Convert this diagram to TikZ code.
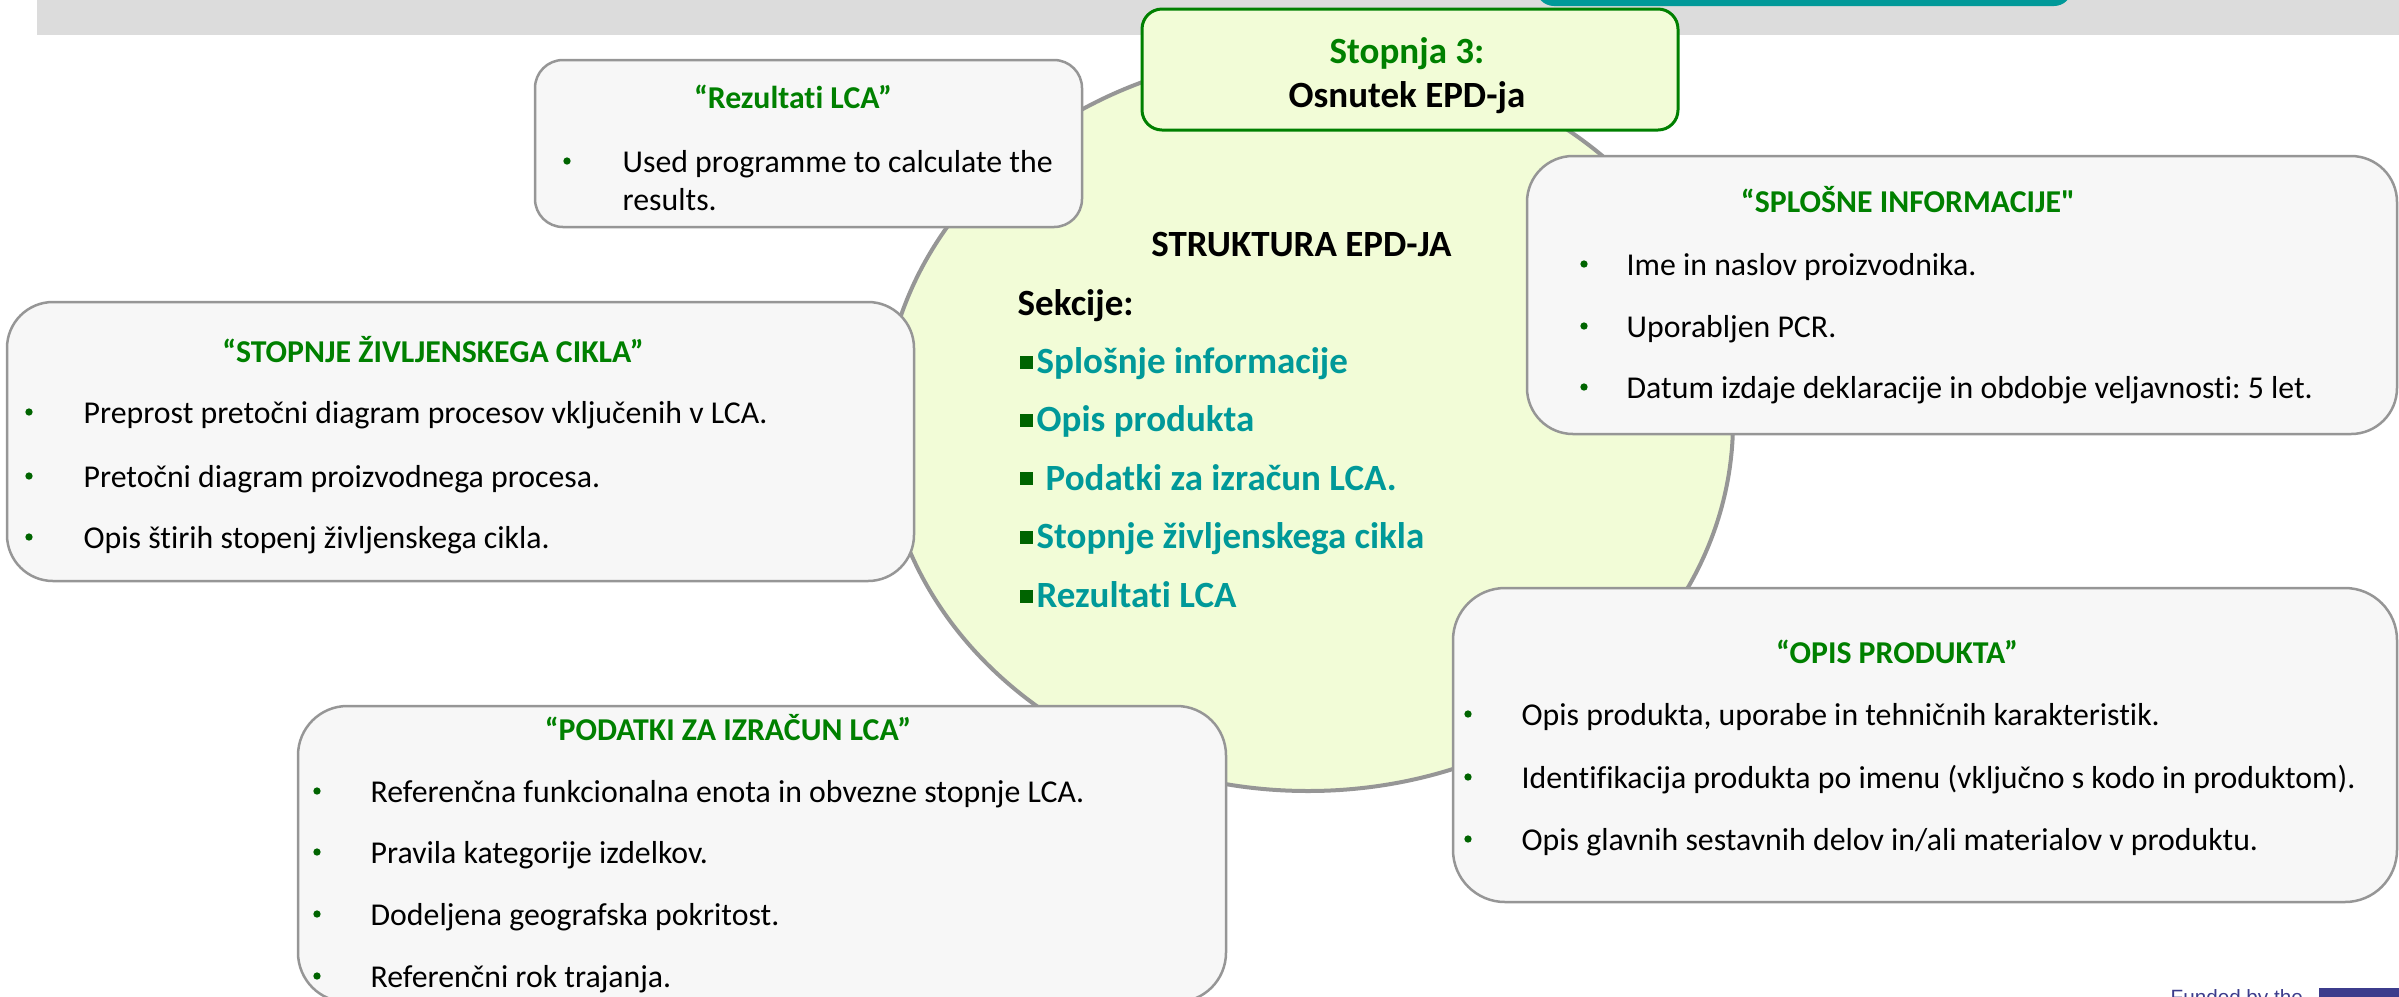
\documentclass[tikz,border=0pt]{standalone}
\usepackage{fontspec}
\setmainfont{Carlito}[Ligatures={TeXOff,CommonOff}]
\newfontfamily\fundfont{Liberation Sans}
\usetikzlibrary{shapes.geometric}
\frenchspacing
\definecolor{hgreen}{RGB}{0,128,0}
\definecolor{dgreen}{RGB}{0,100,0}
\definecolor{tealtxt}{RGB}{0,153,153}
\definecolor{ellfill}{RGB}{242,252,215}
\definecolor{boxfill}{RGB}{247,247,247}
\definecolor{boxgray}{RGB}{150,150,150}
\definecolor{bargray}{RGB}{220,220,220}
\definecolor{fundblue}{RGB}{60,60,140}
\begin{document}
\begin{tikzpicture}[x=0.3pt,y=-0.3pt,
  box/.style={draw=boxgray, line width=0.75pt, fill=boxfill, rounded corners=#1, inner sep=0pt},
  bodytxt/.style={font=\fontsize{9.54}{11}\selectfont, anchor=base west, inner sep=0pt},
  head/.style={font=\fontsize{9.54}{11}\selectfont\bfseries, text=hgreen, anchor=base, inner sep=0pt},
  dotb/.style={circle, fill=dgreen, minimum size=2.2pt, inner sep=0pt},
  itemtxt/.style={font=\fontsize{11.1}{13}\selectfont\bfseries, text=tealtxt, anchor=base west, inner sep=0pt},
  sqb/.style={rectangle, fill=dgreen, minimum size=3.9pt, inner sep=0pt},
  bigtxt/.style={font=\fontsize{11.1}{13}\selectfont\bfseries, inner sep=0pt}]
\clip (0,0) rectangle (2399,996);
% background elements
\node[fill=bargray, minimum width=708.6pt, minimum height=10.5pt, inner sep=0pt] (bar) at (1218,17.5) {};
\node[fill=tealtxt, rounded corners=5.4pt, minimum width=160.8pt, minimum height=10.8pt, inner sep=0pt] (tealbox) at (1804,-12) {};
% central ellipse
\node[ellipse, draw=boxgray, line width=1.2pt, fill=ellfill, minimum width=255pt, minimum height=221.4pt, inner sep=0pt] (circ) at (1308,422) {};
% boxes
\node[box=8.4pt, minimum width=164.1pt, minimum height=50.1pt] (rez) at (808.5,143.5) {};
\node[box=13.8pt, minimum width=272.1pt, minimum height=83.7pt] (stop) at (460.5,441.5) {};
\node[box=13.8pt, minimum width=261pt, minimum height=83.4pt] (splo) at (1962,295) {};
\node[box=15.6pt, minimum width=283.2pt, minimum height=94.2pt] (opis) at (1925,745) {};
\node[box=14.8pt, minimum width=278.4pt, minimum height=88.8pt] (poda) at (762,854) {};
\node[draw=hgreen, line width=0.9pt, fill=ellfill, rounded corners=6pt, minimum width=160.8pt, minimum height=36.3pt, inner sep=0pt] (stage) at (1410,69.5) {};
% stage box text
\node[bigtxt, text=hgreen, anchor=base] (st1) at (1407,63) {Stopnja 3:};
\node[bigtxt, anchor=base] (st2) at (1407,107) {Osnutek EPD-ja};
% central text
\node[bigtxt, anchor=base] (ctitle) at (1301.5,256) {STRUKTURA EPD-JA};
\node[bigtxt, anchor=base west] (csek) at (1017,315) {Sekcije:};
\node[sqb] (q1) at (1026.5,362.5) {};
\node[itemtxt] (c1) at (1036,373) {Splošnje informacije};
\node[sqb] (q2) at (1026.5,420.5) {};
\node[itemtxt] (c2) at (1036,431) {Opis produkta};
\node[sqb] (q3) at (1026.5,478) {};
\node[itemtxt] (c3) at (1045,490) {Podatki za izračun LCA.};
\node[sqb] (q4) at (1026.5,537.5) {};
\node[itemtxt] (c4) at (1036,548) {Stopnje življenskega cikla};
\node[sqb] (q5) at (1026.5,596.5) {};
\node[itemtxt] (c5) at (1036,607) {Rezultati LCA};
% Rezultati LCA box
\node[head] (rezh) at (793,108) {“Rezultati LCA”};
\node[dotb] (rezd1) at (567,161) {};
\node[bodytxt] (rezt1) at (622,172) {Used programme to calculate the};
\node[bodytxt] (rezt2) at (622,210) {results.};
% STOPNJE box
\node[head] (stoph) at (433,362) {“STOPNJE ŽIVLJENSKEGA CIKLA”};
\node[dotb] (stopd1) at (29,412) {};
\node[bodytxt] (stopt1) at (83,423) {Preprost pretočni diagram procesov vključenih v LCA.};
\node[dotb] (stopd2) at (29,476) {};
\node[bodytxt] (stopt2) at (83,487) {Pretočni diagram proizvodnega procesa.};
\node[dotb] (stopd3) at (29,537) {};
\node[bodytxt] (stopt3) at (83,548) {Opis štirih stopenj življenskega cikla.};
% SPLOSNE box
\node[head] (sploh) at (1908,212) {“SPLOŠNE INFORMACIJE"};
\node[dotb] (splod1) at (1584,264) {};
\node[bodytxt] (splot1) at (1626,275) {Ime in naslov proizvodnika.};
\node[dotb] (splod2) at (1584,326) {};
\node[bodytxt] (splot2) at (1626,337) {Uporabljen PCR.};
\node[dotb] (splod3) at (1584,387) {};
\node[bodytxt] (splot3) at (1626,398) {Datum izdaje deklaracije in obdobje veljavnosti: 5 let.};
% OPIS box
\node[head] (opish) at (1897,663) {“OPIS PRODUKTA”};
\node[dotb] (opisd1) at (1468,714) {};
\node[bodytxt] (opist1) at (1521,725) {Opis produkta, uporabe in tehničnih karakteristik.};
\node[dotb] (opisd2) at (1468,777) {};
\node[bodytxt] (opist2) at (1521,788) {Identifikacija produkta po imenu (vključno s kodo in produktom).};
\node[dotb] (opisd3) at (1468,839) {};
\node[bodytxt] (opist3) at (1521,850) {Opis glavnih sestavnih delov in/ali materialov v produktu.};
% PODATKI box
\node[head] (podah) at (728,740) {“PODATKI ZA IZRAČUN LCA”};
\node[dotb] (podad1) at (317,791) {};
\node[bodytxt] (podat1) at (370,802) {Referenčna funkcionalna enota in obvezne stopnje LCA.};
\node[dotb] (podad2) at (317,852) {};
\node[bodytxt] (podat2) at (370,863) {Pravila kategorije izdelkov.};
\node[dotb] (podad3) at (317,914) {};
\node[bodytxt] (podat3) at (370,925) {Dodeljena geografska pokritost.};
\node[dotb] (podad4) at (317,976) {};
\node[bodytxt] (podat4) at (370,987) {Referenčni rok trajanja.};
% footer
\node[font=\fundfont\fontsize{6.2}{7}\selectfont, text=fundblue, anchor=base west, inner sep=0pt] (fund) at (2170,1004) {Funded by the};
\node[fill=fundblue, minimum width=24.3pt, minimum height=6pt, inner sep=0pt, anchor=north west] (flag) at (2318,987) {};
\end{tikzpicture}
\end{document}
